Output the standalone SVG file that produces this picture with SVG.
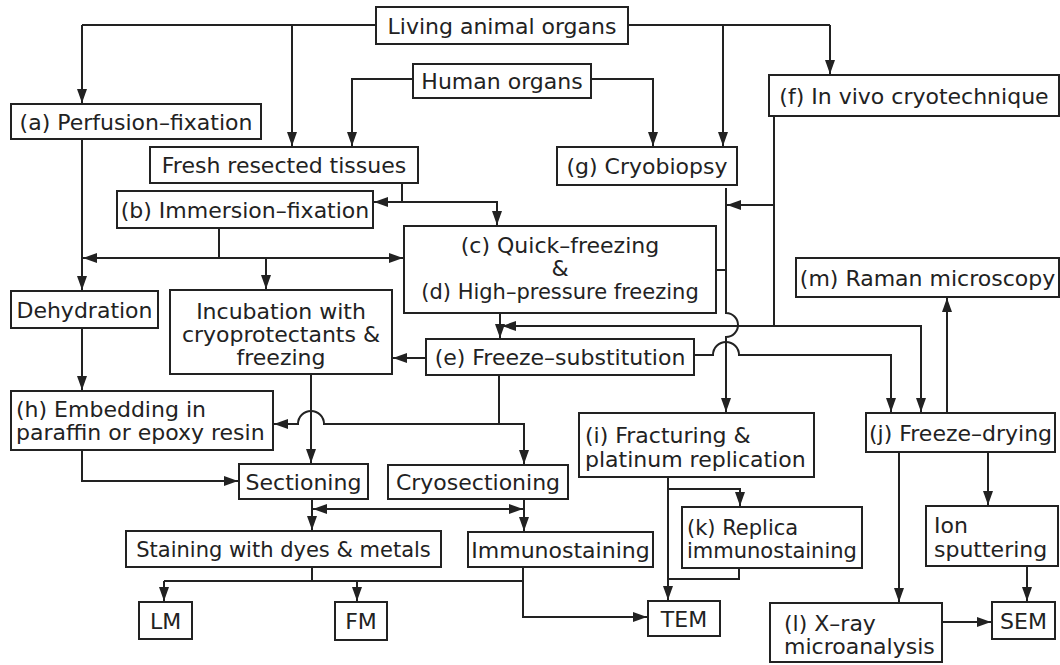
<svg xmlns="http://www.w3.org/2000/svg" width="1060" height="665" viewBox="0 0 1060 665">
<style>
.b{fill:#fff;stroke:#222;stroke-width:2}
.t{font-family:"DejaVu Sans",sans-serif;font-size:22px;fill:#222}
.s{font-size:21px}
.c{text-anchor:middle}
.l{fill:none;stroke:#222;stroke-width:2}
.a{marker-end:url(#ah)}
</style>
<defs>
<marker id="ah" markerUnits="userSpaceOnUse" markerWidth="15" markerHeight="11" refX="14" refY="5" orient="auto">
<path d="M0,0 L14,5 L0,10 z" fill="#222"/>
</marker>
</defs>
<rect width="1060" height="665" fill="#fff"/>
<g id="connectors">
<path class="l" d="M82,25 H376 M628,25 H830"/>
<path class="l a" d="M82,25 V103"/>
<path class="l a" d="M292,25 V146"/>
<path class="l a" d="M723,25 V146"/>
<path class="l a" d="M830,25 V74"/>
<path class="l a" d="M413,79 H352 V146"/>
<path class="l a" d="M591,79 H653 V146"/>
<path class="l" d="M402,183 V202"/>
<path class="l a" d="M402,202 H374"/>
<path class="l a" d="M402,202 H497 V225"/>
<path class="l a" d="M82,139 V290"/>
<path class="l" d="M219,228 V258"/>
<path class="l a" d="M219,258 H83"/>
<path class="l a" d="M219,258 H403"/>
<path class="l a" d="M266,258 V289"/>
<path class="l a" d="M82,328 V390"/>
<path class="l a" d="M774,116 V205 H727"/>
<path class="l" d="M716,270 H726"/>
<path class="l a" d="M726,188 V313 A12,12 0 0 1 726,337 V412"/>
<path class="l a" d="M774,205 V326 H502"/>
<path class="l a" d="M774,326 H921 V412"/>
<path class="l a" d="M694,355 H713 A13,13 0 0 1 739,355 H891 V412"/>
<path class="l a" d="M500,313 V338"/>
<path class="l a" d="M426,358 H393"/>
<path class="l" d="M499,375 V424"/>
<path class="l a" d="M499,424 H324 A13,13 0 0 0 298,424 H274"/>
<path class="l a" d="M499,424 H524 V464"/>
<path class="l a" d="M311,374 V463"/>
<path class="l a" d="M82,450 V481 H238"/>
<path class="l a" d="M312,499 V530"/>
<path class="l a" d="M418,509 H313"/>
<path class="l a" d="M418,509 H523"/>
<path class="l a" d="M524,499 V531"/>
<path class="l" d="M312,567 V581 M164,581 H523"/>
<path class="l a" d="M164,581 V601"/>
<path class="l a" d="M357,581 V601"/>
<path class="l a" d="M523,567 V617 H647"/>
<path class="l a" d="M668,477 V600"/>
<path class="l a" d="M668,489 H740 V506"/>
<path class="l" d="M739,568 V579 H668"/>
<path class="l a" d="M947,413 V298"/>
<path class="l a" d="M899,452 V602"/>
<path class="l a" d="M988,452 V505"/>
<path class="l a" d="M1027,566 V601"/>
<path class="l a" d="M942,622 H991"/>
</g>
<g id="living"><rect class="b" x="376" y="7" width="252" height="37"/><text class="t c" x="502" y="33.5">Living animal organs</text></g>
<g id="human"><rect class="b" x="413" y="64" width="178" height="34"/><text class="t c" x="502" y="89">Human organs</text></g>
<g id="a"><rect class="b" x="11" y="104" width="250" height="35"/><text class="t c" x="136" y="129.5">(a) Perfusion–fixation</text></g>
<g id="fresh"><rect class="b" x="150" y="147" width="268" height="36"/><text class="t c" x="284" y="173">Fresh resected tissues</text></g>
<g id="g"><rect class="b" x="557" y="147" width="180" height="38"/><text class="t c" x="647" y="174">(g) Cryobiopsy</text></g>
<g id="f"><rect class="b" x="769" y="75" width="290" height="41"/><text class="t c" x="914" y="103.5">(f) In vivo cryotechnique</text></g>
<g id="b"><rect class="b" x="117" y="191" width="256" height="37"/><text class="t c" x="245" y="217.5">(b) Immersion–fixation</text></g>
<g id="cd"><rect class="b" x="404" y="226" width="312" height="87"/><text class="t c" x="560" y="253">(c) Quick–freezing</text><text class="t c" x="560" y="276">&amp;</text><text class="t c s" x="560" y="299">(d) High–pressure freezing</text></g>
<g id="dehydration"><rect class="b" x="11" y="291" width="147" height="37"/><text class="t c" x="84.5" y="317.5">Dehydration</text></g>
<g id="incubation"><rect class="b" x="170" y="290" width="222" height="84"/><text class="t c" x="281" y="319">Incubation with</text><text class="t c" x="281" y="342">cryoprotectants &amp;</text><text class="t c" x="281" y="365">freezing</text></g>
<g id="e"><rect class="b" x="426" y="339" width="268" height="36"/><text class="t c" x="560" y="365">(e) Freeze–substitution</text></g>
<g id="m"><rect class="b" x="796" y="258" width="263" height="39"/><text class="t c" x="927.5" y="285.5">(m) Raman microscopy</text></g>
<g id="h"><rect class="b" x="11" y="391" width="262" height="59"/><text class="t" x="16" y="417">(h) Embedding in</text><text class="t" x="16" y="440">paraffin or epoxy resin</text></g>
<g id="i"><rect class="b" x="579" y="413" width="235" height="64"/><text class="t" x="585" y="443">(i) Fracturing &amp;</text><text class="t" x="585" y="467">platinum replication</text></g>
<g id="j"><rect class="b" x="866" y="413" width="189" height="39"/><text class="t c" x="960.5" y="440.5">(j) Freeze–drying</text></g>
<g id="sectioning"><rect class="b" x="239" y="464" width="129" height="35"/><text class="t c" x="303.5" y="489.5">Sectioning</text></g>
<g id="cryosectioning"><rect class="b" x="388" y="465" width="180" height="34"/><text class="t c" x="478" y="490">Cryosectioning</text></g>
<g id="staining"><rect class="b" x="126" y="531" width="315" height="36"/><text class="t c s" x="283.5" y="557">Staining with dyes &amp; metals</text></g>
<g id="immunostaining"><rect class="b" x="468" y="532" width="185" height="35"/><text class="t c" x="560.5" y="557.5">Immunostaining</text></g>
<g id="k"><rect class="b" x="682" y="507" width="180" height="61"/><text class="t s" x="687" y="535">(k) Replica</text><text class="t s" x="687" y="558">immunostaining</text></g>
<g id="ion"><rect class="b" x="926" y="506" width="132" height="60"/><text class="t" x="934" y="533">Ion</text><text class="t" x="934" y="557">sputtering</text></g>
<g id="lm"><rect class="b" x="139" y="602" width="53" height="37"/><text class="t c" x="165.5" y="628.5">LM</text></g>
<g id="fm"><rect class="b" x="335" y="602" width="52" height="38"/><text class="t c" x="361" y="629">FM</text></g>
<g id="tem"><rect class="b" x="648" y="601" width="72" height="35"/><text class="t c" x="684" y="626.5">TEM</text></g>
<g id="sem"><rect class="b" x="992" y="602" width="63" height="37"/><text class="t c" x="1023.5" y="628.5">SEM</text></g>
<g id="l"><rect class="b" x="770" y="603" width="172" height="59"/><text class="t" x="784" y="631">(l) X–ray</text><text class="t" x="784" y="654">microanalysis</text></g>
</svg>
